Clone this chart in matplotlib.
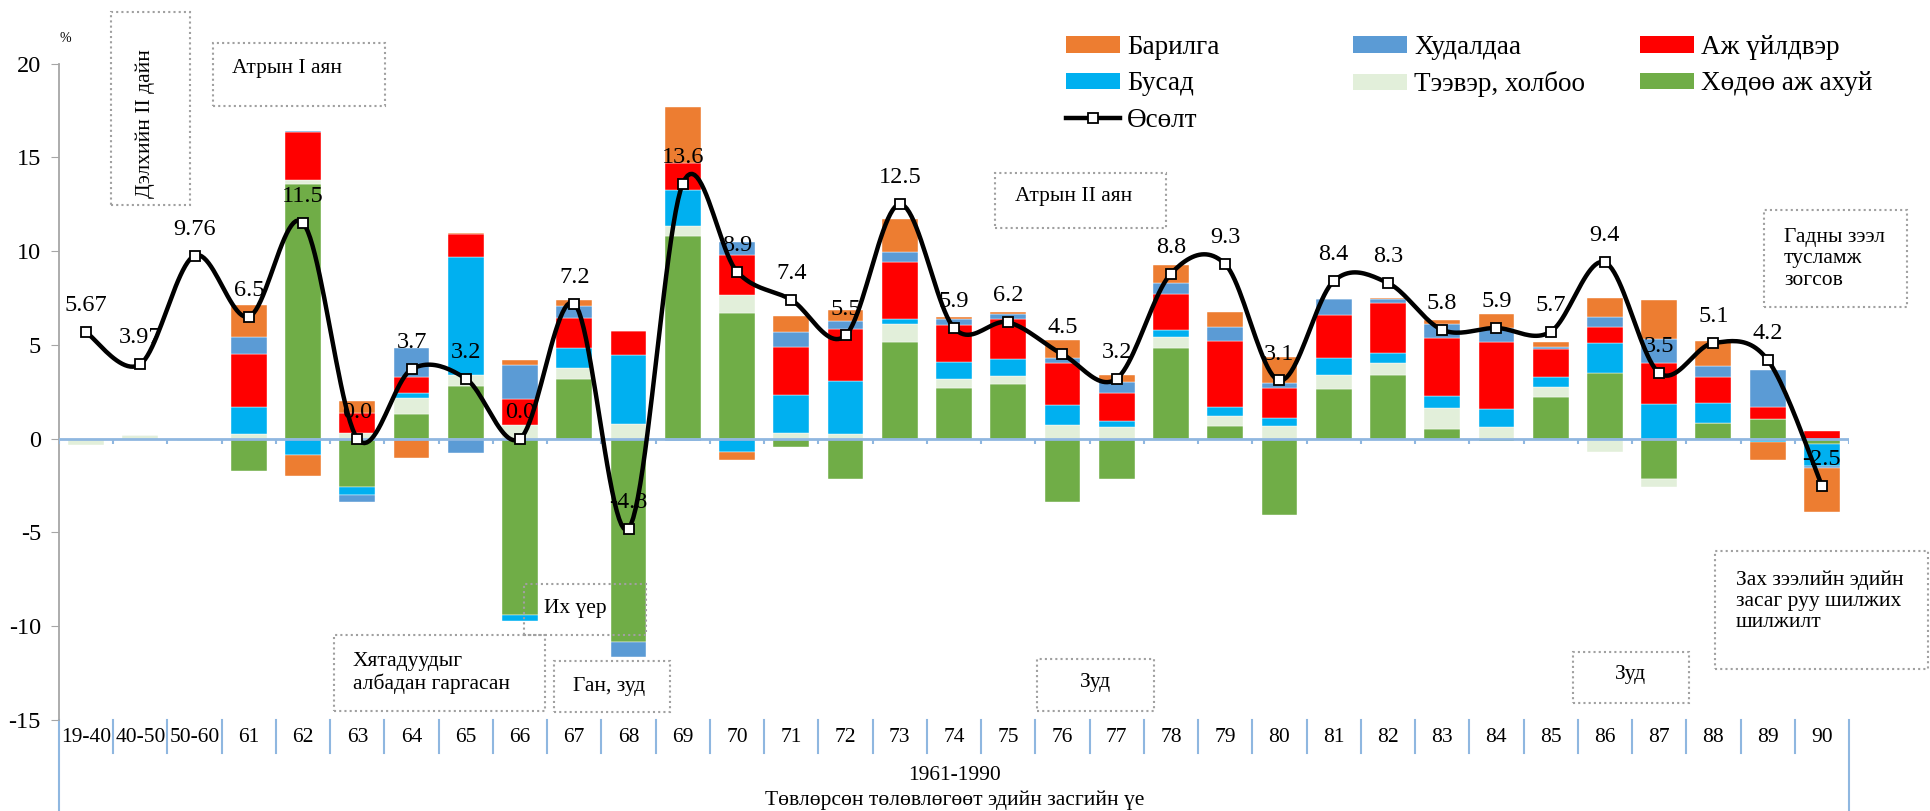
import numpy as np
import matplotlib
matplotlib.use('Agg')
import matplotlib.pyplot as plt
from matplotlib.patches import Patch, Rectangle
from matplotlib.lines import Line2D
import matplotlib.transforms as mtrans

plt.rcParams['font.family'] = ['Liberation Serif', 'DejaVu Serif']
plt.rcParams['axes.unicode_minus'] = False

# ангилал (он)
years = ['19-40', '40-50', '50-60', '61', '62', '63', '64', '65', '66', '67', '68',
         '69', '70', '71', '72', '73', '74', '75', '76', '77', '78', '79', '80',
         '81', '82', '83', '84', '85', '86', '87', '88', '89', '90']

# салбаруудын нөлөө (%)
agri = [0, 0, 0, -1.74, 13.57, -2.58, 1.32, 2.82, -9.41, 3.16, -10.85, 10.83, 6.68,
        -0.46, -2.14, 5.17, 2.68, 2.91, -3.40, -2.14, 4.81, 0.66, -4.07, 2.65, 3.39,
        0.53, -0.14, 2.21, 3.48, -2.14, 0.82, 1.05, -0.28]
trans = [-0.34, 0.21, -0.12, 0.27, 0.21, 0.30, 0.85, 0.57, 0.73, 0.62, 0.77, 0.50, 0.98,
         0.30, 0.27, 0.94, 0.50, 0.43, 0.71, 0.62, 0.59, 0.53, 0.66, 0.74, 0.62,
         1.11, 0.60, 0.55, -0.69, -0.44, 0, 0, 0]
other = [0, 0, 0, 1.40, -0.85, -0.42, 0.27, 6.31, -0.32, 1.03, 3.69, 1.92, -0.71,
         2.01, 2.79, 0.25, 0.92, 0.89, 1.10, 0.34, 0.39, 0.50, 0.44, 0.89, 0.57,
         0.66, 0.98, 0.54, 1.64, 1.87, 1.08, -0.20, -1.17]
ind = [0, 0, 0, 2.84, 2.58, 1.07, 0.83, 1.19, 1.39, 1.64, 1.29, 1.42, 2.13,
       2.59, 2.78, 3.07, 1.96, 2.15, 2.24, 1.49, 1.92, 3.51, 1.58, 2.31, 2.63,
       3.08, 3.59, 1.48, 0.85, 2.18, 1.40, 0.66, 0.39]
trade = [0, 0, 0, 0.89, 0.05, -0.36, 1.56, -0.77, 1.81, 0.64, -0.80, -0.12, 0.67,
         0.80, 0.43, 0.50, 0.32, 0.25, 0.23, 0.59, 0.57, 0.77, 0.27, 0.85, 0.23,
         0.71, 0.74, 0.12, 0.53, 1.24, 0.59, 1.95, -0.10]
constr = [0, 0, 0, 1.72, -1.16, 0.62, -1.05, 0.05, 0.27, 0.30, 0, 3.02, -0.45,
          0.85, 0.59, 1.78, 0.09, 0.10, 0.98, 0.35, 0.97, 0.76, 1.42, 0, 0.04,
          0.23, 0.73, 0.27, 0.98, 2.10, 1.31, -0.92, -2.36]

# өсөлт (%)
growth = [5.67, 3.97, 9.76, 6.5, 11.5, 0.0, 3.7, 3.2, 0.0, 7.2, -4.8, 13.6, 8.9,
          7.4, 5.5, 12.5, 5.9, 6.2, 4.5, 3.2, 8.8, 9.3, 3.1, 8.4, 8.3,
          5.8, 5.9, 5.7, 9.4, 3.5, 5.1, 4.2, -2.5]

series = [
    ('Хөдөө аж ахуй', agri, '#70AD47'),
    ('Тээвэр, холбоо', trans, '#E2EFDA'),
    ('Бусад', other, '#00B0F0'),
    ('Аж үйлдвэр', ind, '#FF0000'),
    ('Худалдаа', trade, '#5B9BD5'),
    ('Барилга', constr, '#ED7D31'),
]


def smooth(xs, ys, n=24):
    # Excel-ийн гөлгөр шугамтай төстэй (Catmull-Rom / Bezier)
    pts = np.column_stack([xs, ys]).astype(float)
    p = np.vstack([pts[0], pts, pts[-1]])
    t = np.linspace(0, 1, n)[:, None]
    out = []
    for i in range(1, len(p) - 2):
        p0, p1, p2, p3 = p[i - 1], p[i], p[i + 1], p[i + 2]
        c1 = p1 + (p2 - p0) / 6
        c2 = p2 - (p3 - p1) / 6
        seg = (1 - t) ** 3 * p1 + 3 * (1 - t) ** 2 * t * c1 + 3 * (1 - t) * t ** 2 * c2 + t ** 3 * p2
        out.append(seg if i == 1 else seg[1:])
    return np.vstack(out)


W, H = 1931, 811
fig = plt.figure(figsize=(W / 100, H / 100), dpi=100)
ax = fig.add_axes([59 / W, 1 - 720 / H, 1790 / W, (720 - 63.5) / H])

x = np.arange(len(years))
pos = np.zeros(len(years))
neg = np.zeros(len(years))
for name, vals, col in series:
    v = np.array(vals, dtype=float)
    base = np.where(v >= 0, pos, neg)
    ax.bar(x, v, 0.66, bottom=base, color=col, edgecolor='white', linewidth=0.3, zorder=2)
    pos = pos + np.where(v > 0, v, 0)
    neg = neg + np.where(v < 0, v, 0)

# тэг шугам
ax.axhline(0, color='#8FB7E0', lw=2, zorder=3)
ax.vlines(np.arange(len(years) + 1) - 0.5, -0.28, 0, color='#8FB7E0', lw=1.5, zorder=3)

# өсөлтийн шугам
curve = smooth(x, growth)
ax.plot(curve[:, 0], curve[:, 1], color='black', lw=3.2, zorder=5, solid_capstyle='round')
ax.plot(x, growth, ls='none', marker='s', ms=7, mfc='white', mec='black', mew=1.3, zorder=6)
for i, v in enumerate(growth):
    lab = f'{v:.2f}' if i < 3 else f'{v:.1f}'
    ax.annotate(lab, (i, v), xytext=(0, 19), textcoords='offset points',
                ha='center', va='center', fontsize=17.5, zorder=7)

ax.set_xlim(-0.5, len(years) - 0.5)
ax.set_ylim(-15, 20)
ax.set_yticks(range(-15, 21, 5))
ax.tick_params(axis='y', direction='out', length=6, color='#A6A6A6', labelsize=17.5, pad=7)
ax.set_xticks(x)
ax.set_xticklabels(years, fontsize=15.5)
ax.tick_params(axis='x', length=0, pad=6)
for s in ['top', 'right', 'bottom']:
    ax.spines[s].set_visible(False)
ax.spines['left'].set_color('#A6A6A6')
ax.spines['left'].set_linewidth(1.3)

# доод талын хуваах шугамууд
tr = mtrans.blended_transform_factory(ax.transData, ax.transAxes)
n = len(years)
for k in range(n + 1):
    low = -0.1386 if k in (0, n) else -0.0503
    ax.plot([k - 0.5, k - 0.5], [0, low], transform=tr, color='#8FB7E0', lw=1.5, clip_on=False)

fig.text(955 / W, 1 - 775 / H, '1961-1990', ha='center', va='center', fontsize=15.5)
fig.text(955 / W, 1 - 800 / H, 'Төвлөрсөн төлөвлөгөөт эдийн засгийн үе',
         ha='center', va='center', fontsize=15.5)
fig.text(65 / W, 1 - 39 / H, '%', ha='center', va='center', fontsize=10)

# тайлбар
def legend_col(items, xpx):
    handles = []
    for lab, col in items:
        if col is None:
            handles.append(Line2D([], [], color='black', lw=3.2, marker='s', ms=7,
                                  mfc='white', mec='black', mew=1.3))
        else:
            handles.append(Patch(facecolor=col, edgecolor='none'))
    fig.legend(handles, [i[0] for i in items], loc='upper left',
               bbox_to_anchor=(xpx / W, 1 - 35 / H), frameon=False, fontsize=19.5,
               borderpad=0, borderaxespad=0, handlelength=2.0, handleheight=0.55,
               handletextpad=0.25, labelspacing=0.42)

legend_col([('Барилга', '#ED7D31'), ('Бусад', '#00B0F0'), ('Өсөлт', None)], 1066)
legend_col([('Худалдаа', '#5B9BD5'), ('Тээвэр, холбоо', '#E2EFDA')], 1353)
legend_col([('Аж үйлдвэр', '#FF0000'), ('Хөдөө аж ахуй', '#70AD47')], 1640)

# үйл явдлын хайрцагнууд
def note(x0, y0, x1, y1, text, tx, ty, ha='left', rot=0):
    fig.add_artist(Rectangle((x0 / W, 1 - y1 / H), (x1 - x0) / W, (y1 - y0) / H,
                             transform=fig.transFigure, fill=False, edgecolor='#A0A0A0',
                             lw=1.5, ls=(0, (1, 1.5)), zorder=10))
    fig.text(tx / W, 1 - ty / H, text, ha=ha, va='center', fontsize=15.5,
             rotation=rot, linespacing=1.15, zorder=10)

note(111, 12, 190, 205, 'Дэлхийн II дайн', 145, 124, ha='center', rot=90)
note(213, 43, 385, 106, 'Атрын I аян', 232, 69)
note(995, 173, 1166, 228, 'Атрын II аян', 1015, 197)
note(1764, 210, 1907, 307, 'Гадны зээл\nтусламж\nзогсов', 1784, 259)
note(524, 584, 646, 635, 'Их үер', 544, 609)
note(334, 635, 545, 711, 'Хятадуудыг\nалбадан гаргасан', 353, 673)
note(554, 661, 670, 712, 'Ган, зуд', 609, 686, ha='center')
note(1037, 659, 1154, 711, 'Зуд', 1096, 683, ha='center')
note(1573, 652, 1689, 703, 'Зуд', 1631, 675, ha='center')
note(1715, 551, 1928, 669, 'Зах зээлийн эдийн\nзасаг руу шилжих\nшилжилт', 1736, 601)

fig.savefig('out.png', dpi=100)
